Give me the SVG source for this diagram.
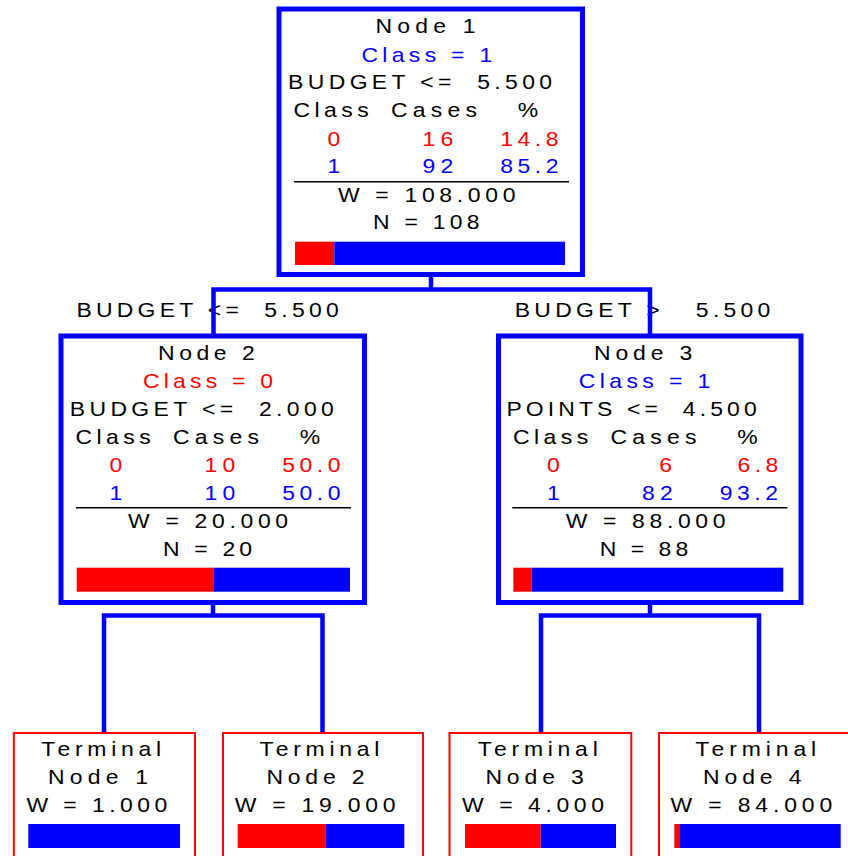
<svg xmlns="http://www.w3.org/2000/svg" width="848" height="856" viewBox="0 0 848 856">
  <style>
    text { font-family: "Liberation Sans", Arial, Helvetica, sans-serif; font-size: 20.5px; }
    .k { fill: #000; }
    .r { fill: #f00; }
    .b { fill: #00f; }
    .box { fill: #fff; stroke: #00f; stroke-width: 5; }
    .term { fill: #fff; stroke: #f00; stroke-width: 2; }
    .rule { stroke: #000; stroke-width: 1.6; }
    .red { fill: #f00; }
    .blue { fill: #00f; }
    .link { fill: none; stroke: #00f; stroke-width: 4.5; }
  </style>

  <!-- split labels (drawn beneath the connector lines) -->
  <g id="edge-labels" class="k">
    <text xml:space="preserve" transform="translate(76.4 316.7) scale(1.12 1)" textLength="234.3" lengthAdjust="spacing">BUDGET &lt;=  5.500</text>
    <text xml:space="preserve" transform="translate(514.8 316.7) scale(1.12 1)" textLength="228.2" lengthAdjust="spacing">BUDGET &gt;   5.500</text>
  </g>

  <g id="connectors">
    <path class="link" d="M431,274 V289.5 M213.5,336 V289.5 H650 V336"/>
    <path class="link" d="M213,602.5 V615.5 M104,733 V615.5 H322.5 V733"/>
    <path class="link" d="M650,602.5 V615.5 M541,733 V615.5 H759 V733"/>
  </g>

  <!-- Node 1 -->
  <g id="node1">
    <rect class="box" x="279" y="9" width="303.5" height="265.5"/>
    <text class="k" transform="translate(375.4 33.3) scale(1.12 1)" textLength="89.5" lengthAdjust="spacing">Node 1</text>
    <text class="b" transform="translate(361.4 61.7) scale(1.12 1)" textLength="116.9" lengthAdjust="spacing">Class = 1</text>
    <text class="k" xml:space="preserve" transform="translate(288.1 89.3) scale(1.12 1)" textLength="235.7" lengthAdjust="spacing">BUDGET &lt;=  5.500</text>
    <text class="k" transform="translate(293.4 117.3) scale(1.12 1)" textLength="67.3" lengthAdjust="spacing">Class</text>
    <text class="k" transform="translate(391.1 117.3) scale(1.12 1)" textLength="76.7" lengthAdjust="spacing">Cases</text>
    <text class="k" transform="translate(517.8 117.3) scale(1.12 1)">%</text>
    <text class="r" transform="translate(327.6 145.7) scale(1.12 1)">0</text>
    <text class="r" transform="translate(422.6 145.7) scale(1.12 1)" textLength="27.3" lengthAdjust="spacing">16</text>
    <text class="r" transform="translate(500.3 145.7) scale(1.12 1)" textLength="52" lengthAdjust="spacing">14.8</text>
    <text class="b" transform="translate(327.6 173.3) scale(1.12 1)">1</text>
    <text class="b" transform="translate(422.6 173.3) scale(1.12 1)" textLength="27.3" lengthAdjust="spacing">92</text>
    <text class="b" transform="translate(500.3 173.3) scale(1.12 1)" textLength="52" lengthAdjust="spacing">85.2</text>
    <line class="rule" x1="294" y1="181.7" x2="569" y2="181.7"/>
    <text class="k" transform="translate(338 201.7) scale(1.12 1)" textLength="158.5" lengthAdjust="spacing">W = 108.000</text>
    <text class="k" transform="translate(373.1 229.3) scale(1.12 1)" textLength="95.1" lengthAdjust="spacing">N = 108</text>
    <rect class="red" x="295" y="241.7" width="39.3" height="23.3"/>
    <rect class="blue" x="334.3" y="241.7" width="230.7" height="23.3"/>
  </g>

  <!-- Node 2 -->
  <g id="node2">
    <rect class="box" x="61" y="336" width="303.5" height="266.5"/>
    <text class="k" transform="translate(158.1 360) scale(1.12 1)" textLength="86.3" lengthAdjust="spacing">Node 2</text>
    <text class="r" transform="translate(143 388.4) scale(1.12 1)" textLength="116" lengthAdjust="spacing">Class = 0</text>
    <text class="k" xml:space="preserve" transform="translate(69.8 416) scale(1.12 1)" textLength="235.7" lengthAdjust="spacing">BUDGET &lt;=  2.000</text>
    <text class="k" transform="translate(75.4 444) scale(1.12 1)" textLength="67.3" lengthAdjust="spacing">Class</text>
    <text class="k" transform="translate(173.1 444) scale(1.12 1)" textLength="76.7" lengthAdjust="spacing">Cases</text>
    <text class="k" transform="translate(299.8 444) scale(1.12 1)">%</text>
    <text class="r" transform="translate(109.6 472.4) scale(1.12 1)">0</text>
    <text class="r" transform="translate(204.6 472.4) scale(1.12 1)" textLength="27.3" lengthAdjust="spacing">10</text>
    <text class="r" transform="translate(282.3 472.4) scale(1.12 1)" textLength="52" lengthAdjust="spacing">50.0</text>
    <text class="b" transform="translate(109.6 500) scale(1.12 1)">1</text>
    <text class="b" transform="translate(204.6 500) scale(1.12 1)" textLength="27.3" lengthAdjust="spacing">10</text>
    <text class="b" transform="translate(282.3 500) scale(1.12 1)" textLength="52" lengthAdjust="spacing">50.0</text>
    <line class="rule" x1="76" y1="507.7" x2="351" y2="507.7"/>
    <text class="k" transform="translate(128 528.4) scale(1.12 1)" textLength="143" lengthAdjust="spacing">W = 20.000</text>
    <text class="k" transform="translate(163.1 556) scale(1.12 1)" textLength="79.5" lengthAdjust="spacing">N = 20</text>
    <rect class="red" x="76.7" y="567.7" width="136.6" height="24"/>
    <rect class="blue" x="213.3" y="567.7" width="136.7" height="24"/>
  </g>

  <!-- Node 3 -->
  <g id="node3">
    <rect class="box" x="498.5" y="336" width="302.5" height="266.5"/>
    <text class="k" transform="translate(594.1 360) scale(1.12 1)" textLength="87.6" lengthAdjust="spacing">Node 3</text>
    <text class="b" transform="translate(578.7 388.4) scale(1.12 1)" textLength="117.5" lengthAdjust="spacing">Class = 1</text>
    <text class="k" xml:space="preserve" transform="translate(506.4 416) scale(1.12 1)" textLength="223.5" lengthAdjust="spacing">POINTS &lt;=  4.500</text>
    <text class="k" transform="translate(512.9 444) scale(1.12 1)" textLength="67.3" lengthAdjust="spacing">Class</text>
    <text class="k" transform="translate(610.6 444) scale(1.12 1)" textLength="76.7" lengthAdjust="spacing">Cases</text>
    <text class="k" transform="translate(737.3 444) scale(1.12 1)">%</text>
    <text class="r" transform="translate(547.1 472.4) scale(1.12 1)">0</text>
    <text class="r" transform="translate(659.2 472.4) scale(1.12 1)">6</text>
    <text class="r" transform="translate(737.5 472.4) scale(1.12 1)" textLength="36.5" lengthAdjust="spacing">6.8</text>
    <text class="b" transform="translate(547.1 500) scale(1.12 1)">1</text>
    <text class="b" transform="translate(642.1 500) scale(1.12 1)" textLength="27.3" lengthAdjust="spacing">82</text>
    <text class="b" transform="translate(719.8 500) scale(1.12 1)" textLength="52" lengthAdjust="spacing">93.2</text>
    <line class="rule" x1="512.3" y1="507.7" x2="787.3" y2="507.7"/>
    <text class="k" transform="translate(565.7 528.4) scale(1.12 1)" textLength="142.7" lengthAdjust="spacing">W = 88.000</text>
    <text class="k" transform="translate(599.8 556) scale(1.12 1)" textLength="78.9" lengthAdjust="spacing">N = 88</text>
    <rect class="red" x="513.3" y="567.7" width="18.4" height="24"/>
    <rect class="blue" x="531.7" y="567.7" width="251.6" height="24"/>
  </g>

  <!-- Terminal nodes -->
  <g id="terminal1">
    <rect class="term" x="13.8" y="733" width="181.2" height="140"/>
    <text class="k" transform="translate(41.2 756) scale(1.12 1)" textLength="107.1" lengthAdjust="spacing">Terminal</text>
    <text class="k" transform="translate(48.1 784) scale(1.12 1)" textLength="89.3" lengthAdjust="spacing">Node 1</text>
    <text class="k" transform="translate(26.4 812.3) scale(1.12 1)" textLength="125.7" lengthAdjust="spacing">W = 1.000</text>
    <rect class="blue" x="28.3" y="824" width="151.7" height="24"/>
  </g>

  <g id="terminal2">
    <rect class="term" x="223" y="733" width="200" height="140"/>
    <text class="k" transform="translate(259.5 756) scale(1.12 1)" textLength="107.1" lengthAdjust="spacing">Terminal</text>
    <text class="k" transform="translate(266.4 784) scale(1.12 1)" textLength="87.6" lengthAdjust="spacing">Node 2</text>
    <text class="k" transform="translate(234.7 812.3) scale(1.12 1)" textLength="143.6" lengthAdjust="spacing">W = 19.000</text>
    <rect class="red" x="237.7" y="824" width="87.6" height="24"/>
    <rect class="blue" x="325.3" y="824" width="79" height="24"/>
  </g>

  <g id="terminal3">
    <rect class="term" x="449.5" y="733" width="181.8" height="140"/>
    <text class="k" transform="translate(477.8 756) scale(1.12 1)" textLength="107.1" lengthAdjust="spacing">Terminal</text>
    <text class="k" transform="translate(485.4 784) scale(1.12 1)" textLength="87.9" lengthAdjust="spacing">Node 3</text>
    <text class="k" transform="translate(462 812.3) scale(1.12 1)" textLength="126.7" lengthAdjust="spacing">W = 4.000</text>
    <rect class="red" x="465" y="824" width="75.7" height="24"/>
    <rect class="blue" x="540.7" y="824" width="75.3" height="24"/>
  </g>

  <g id="terminal4">
    <rect class="term" x="659" y="733" width="200" height="140"/>
    <text class="k" transform="translate(695.2 756) scale(1.12 1)" textLength="108" lengthAdjust="spacing">Terminal</text>
    <text class="k" transform="translate(703.1 784) scale(1.12 1)" textLength="87.9" lengthAdjust="spacing">Node 4</text>
    <text class="k" transform="translate(670.4 812.3) scale(1.12 1)" textLength="144.5" lengthAdjust="spacing">W = 84.000</text>
    <rect class="red" x="674.3" y="824" width="5.7" height="24"/>
    <rect class="blue" x="680" y="824" width="160.7" height="24"/>
  </g>
</svg>
